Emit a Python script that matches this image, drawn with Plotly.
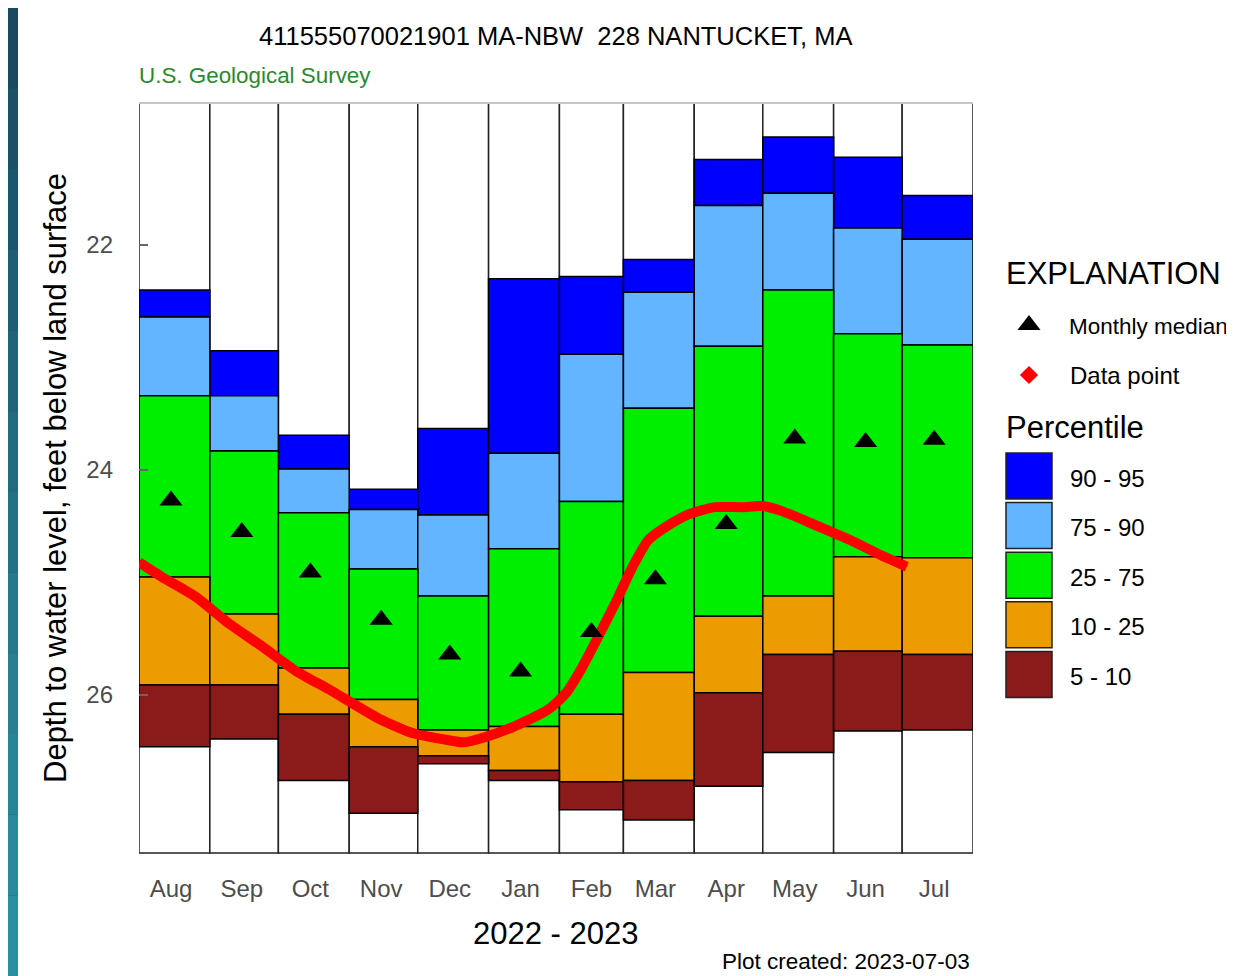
import pandas as pd
import plotly.graph_objects as go

# page body has an 8px margin, so the figure is laid out in page pixels minus OFF
OFF = 8
W, H = 1226, 968
FONT = "Liberation Sans, Arial, sans-serif"

# percentile depths, feet below land surface (Aug 2022 .. Jul 2023)
months = ["Aug", "Sep", "Oct", "Nov", "Dec", "Jan", "Feb", "Mar", "Apr", "May", "Jun", "Jul"]
p95 = [22.40, 22.94, 23.69, 24.17, 23.63, 22.30, 22.28, 22.13, 21.24, 21.04, 21.22, 21.56]
p90 = [22.64, 23.34, 23.99, 24.35, 24.40, 23.85, 22.97, 22.42, 21.65, 21.54, 21.85, 21.95]
p75 = [23.34, 23.83, 24.38, 24.88, 25.12, 24.70, 24.28, 23.45, 22.90, 22.40, 22.79, 22.89]
p25 = [24.95, 25.28, 25.76, 26.04, 26.31, 26.28, 26.17, 25.80, 25.30, 25.12, 24.77, 24.78]
p10 = [25.91, 25.91, 26.17, 26.46, 26.54, 26.67, 26.77, 26.76, 25.98, 25.64, 25.61, 25.64]
p05 = [26.46, 26.39, 26.76, 27.05, 26.61, 26.76, 27.02, 27.11, 26.81, 26.51, 26.32, 26.31]
medians = [24.27, 24.55, 24.91, 25.33, 25.64, 25.79, 25.44, 24.97, 24.48, 23.72, 23.75, 23.73]

obs_dates = ["2022-08-01", "2022-08-11", "2022-08-26", "2022-09-09", "2022-09-24", "2022-10-09",
             "2022-10-24", "2022-11-14", "2022-11-29", "2022-12-14", "2022-12-21", "2022-12-31",
             "2023-01-12", "2023-01-27", "2023-02-04", "2023-02-11", "2023-02-18", "2023-02-26",
             "2023-03-05", "2023-03-12", "2023-03-20", "2023-03-30", "2023-04-10", "2023-04-22",
             "2023-05-01", "2023-05-10", "2023-05-24", "2023-06-08", "2023-06-22", "2023-07-03"]
obs_depth = [24.82, 24.95, 25.13, 25.36, 25.57, 25.79, 25.96, 26.21, 26.34, 26.40, 26.42, 26.37,
             26.28, 26.13, 25.98, 25.75, 25.48, 25.16, 24.86, 24.62, 24.50, 24.39, 24.33, 24.33,
             24.32, 24.37, 24.49, 24.62, 24.76, 24.86]

band_labels = ["90 - 95", "75 - 90", "25 - 75", "10 - 25", "5 - 10"]
band_colors = ["#0000FF", "#63B5FF", "#00EE00", "#EC9B00", "#8B1A1A"]
edges = [p95, p90, p75, p25, p10, p05]

starts = pd.date_range("2022-08-01", periods=13, freq="MS")
widths = [(starts[i + 1] - starts[i]).total_seconds() * 1000 for i in range(12)]
mids = [s + pd.Timedelta(days=14) for s in starts[:12]]


def px(x):
    return (x - OFF) / W


def py(y):
    return 1 - (y - OFF) / H


fig = go.Figure()

# percentile bands
for k in range(5):
    top, bot = edges[k], edges[k + 1]
    fig.add_trace(go.Bar(
        x=starts[:12], base=top, y=[b - t for t, b in zip(top, bot)],
        width=widths, offset=0,
        marker=dict(color=band_colors[k], line=dict(color="black", width=1.5)),
        showlegend=False, hoverinfo="skip",
    ))

fig.add_trace(go.Scatter(
    x=obs_dates, y=obs_depth, mode="lines",
    line=dict(color="#FF0000", width=10, shape="spline", smoothing=0.6),
    showlegend=False,
))
fig.add_trace(go.Scatter(
    x=mids, y=medians, mode="markers",
    marker=dict(symbol="triangle-up", size=20, color="black"),
    showlegend=False,
))

# legend markers on a full-page pixel overlay axis
fig.add_trace(go.Scatter(
    x=[1029], y=[325], mode="markers", xaxis="x2", yaxis="y2",
    marker=dict(symbol="triangle-up", size=20, color="black"), showlegend=False, hoverinfo="skip",
))
fig.add_trace(go.Scatter(
    x=[1029], y=[375], mode="markers", xaxis="x2", yaxis="y2",
    marker=dict(symbol="diamond", size=14, color="#FF0000"), showlegend=False, hoverinfo="skip",
))

shapes = []
# teal backdrop strips
shapes.append(dict(type="rect", xref="paper", yref="paper", x0=0, x1=1, y0=0, y1=1,
                   fillcolor="#1b5469", line_width=0, layer="below"))
teal = ["#194a5f", "#1a5166", "#1b576c", "#1d5e72", "#1f6478", "#216b7e", "#237284",
        "#25798a", "#277f90", "#288595", "#2a8a9b", "#2b8fa0"]
for i, c in enumerate(teal):
    shapes.append(dict(type="rect", xref="paper", yref="paper", x0=0, x1=px(18),
                       y0=1 - (i + 1) / len(teal), y1=1 - i / len(teal),
                       fillcolor=c, line_width=0, layer="below"))
shapes.append(dict(type="rect", xref="paper", yref="paper", x0=px(18), x1=1, y0=0, y1=py(5),
                   fillcolor="white", line_width=0, layer="below"))
# month columns
for i in range(12):
    shapes.append(dict(type="rect", xref="x", yref="y domain", x0=starts[i], x1=starts[i + 1],
                       y0=0, y1=1, fillcolor="white", line=dict(color="#222", width=1.5),
                       layer="below"))
shapes.append(dict(type="line", xref="x domain", yref="y domain", x0=0, x1=1, y0=1, y1=1,
                   line=dict(color="#c8c8c8", width=2)))
# legend boxes
for k in range(5):
    y0 = 453 + k * 49.6
    shapes.append(dict(type="rect", xref="paper", yref="paper",
                       x0=px(1006), x1=px(1052), y0=py(y0 + 46), y1=py(y0),
                       fillcolor=band_colors[k], line=dict(color="#222", width=1.5)))


def ann(text, x, y, size, color="black", xanchor="left", angle=0, yanchor="middle"):
    return dict(text=text, x=px(x), y=py(y), xref="paper", yref="paper", showarrow=False,
                xanchor=xanchor, yanchor=yanchor, textangle=angle,
                font=dict(family=FONT, size=size, color=color))


annotations = [
    ann("411555070021901 MA-NBW  228 NANTUCKET, MA", 555, 36, 25.5, xanchor="center"),
    ann("U.S. Geological Survey", 137, 76, 22.4, color="#2b8a2b"),
    ann("Depth to water level, feet below land surface", 55, 478, 31, xanchor="center", angle=-90),
    ann("2022 - 2023", 555, 933, 31, xanchor="center"),
    ann("Plot created: 2023-07-03", 720, 976, 22.5, yanchor="bottom"),
    ann("EXPLANATION", 1004, 274, 31),
    ann("Monthly median", 1067, 326, 22.5),
    ann("Data point", 1068, 375, 24),
    ann("Percentile", 1004, 427, 31),
]
for k, lab in enumerate(band_labels):
    annotations.append(ann(lab, 1068, 478 + k * 49.6, 24))

fig.update_layout(
    width=W, height=H, autosize=False,
    margin=dict(l=0, r=0, t=0, b=0),
    paper_bgcolor="white", plot_bgcolor="rgba(0,0,0,0)",
    barmode="overlay", showlegend=False,
    font=dict(family=FONT),
    shapes=shapes, annotations=annotations,
    xaxis=dict(
        type="date", domain=[px(139), px(973)], range=[starts[0], starts[12]],
        tickvals=mids, ticktext=months, ticks="", showgrid=False, zeroline=False,
        showline=False, ticklabelstandoff=19,
        tickfont=dict(family=FONT, size=24, color="#4d4d4d"),
    ),
    yaxis=dict(
        domain=[py(853), py(103)], range=[27.404, 20.738],
        tickvals=[22, 24, 26], ticks="inside", ticklen=9, tickwidth=1.5, tickcolor="#666",
        showgrid=False, zeroline=False, showline=False, ticklabelstandoff=25,
        tickfont=dict(family=FONT, size=24, color="#4d4d4d"),
    ),
    xaxis2=dict(domain=[0, 1], range=[OFF, OFF + W], anchor="y2", visible=False, fixedrange=True),
    yaxis2=dict(domain=[0, 1], range=[OFF + H, OFF], anchor="x2", visible=False, fixedrange=True),
)

fig.write_html("out.html")
